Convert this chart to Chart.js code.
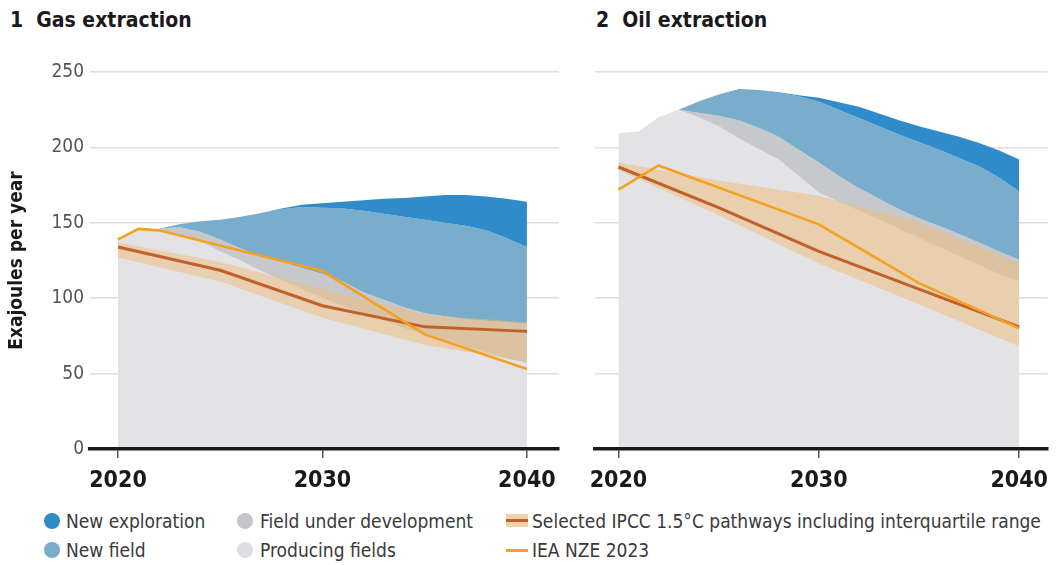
<!DOCTYPE html>
<html>
<head>
<meta charset="utf-8">
<script src="https://cdn.jsdelivr.net/npm/chart.js@4.4.1/dist/chart.umd.min.js"></script>
<style>
  html, body { margin: 0; padding: 0; background: #fff; }
  #wrap { position: relative; width: 1057px; height: 565px; overflow: hidden;
          font-family: 'Liberation Sans Narrow', 'DejaVu Sans Condensed', 'Liberation Sans', sans-serif; }
  .title { position: absolute; top: 8px; font-weight: bold; font-size: 21px; color: #1a1a1a; white-space: nowrap; }
  #cGas { position: absolute; left: 0; top: 0; }
  #cOil { position: absolute; left: 575px; top: 0; }
  .leg { position: absolute; font-size: 19px; color: #3a3a3a; white-space: nowrap; line-height: 24px; }
  .dot { position: absolute; width: 16px; height: 16px; border-radius: 50%; }
  .bandmark { position: absolute; width: 22px; height: 13px; background: #efd3a8; }
  .linemark { position: absolute; height: 3px; }
</style>
</head>
<body>
<div id="wrap">
  <div class="title" style="left:10px;">1&nbsp;&nbsp;Gas extraction</div>
  <div class="title" style="left:596px;">2&nbsp;&nbsp;Oil extraction</div>
  <canvas id="cGas" width="575" height="500"></canvas>
  <canvas id="cOil" width="482" height="500"></canvas>

  <div class="dot" style="left:44px;top:513px;background:#2f8bc9;"></div>
  <div class="leg" style="left:66px;top:509px;">New exploration</div>
  <div class="dot" style="left:44px;top:542px;background:#7aaccb;"></div>
  <div class="leg" style="left:66px;top:538px;">New field</div>

  <div class="dot" style="left:237px;top:513px;background:#c4c5c8;"></div>
  <div class="leg" style="left:260px;top:509px;">Field under development</div>
  <div class="dot" style="left:237px;top:542px;background:#dfdfe3;"></div>
  <div class="leg" style="left:260px;top:538px;">Producing fields</div>

  <div class="bandmark" style="left:506px;top:514px;"></div>
  <div class="linemark" style="left:506px;top:519px;width:22px;background:#c0602a;"></div>
  <div class="leg" style="left:532px;top:509px;">Selected IPCC 1.5°C pathways including interquartile range</div>
  <div class="linemark" style="left:506px;top:549px;width:22px;background:#f5a020;"></div>
  <div class="leg" style="left:532px;top:538px;">IEA NZE 2023</div>
</div>

<script>
// ---------- data ----------
const years = [2020, 2021, 2022, 2023, 2024, 2025, 2026, 2027, 2028, 2029, 2030,
               2031, 2032, 2033, 2034, 2035, 2036, 2037, 2038, 2039, 2040];

// Gas: cumulative top of each stacked layer (EJ/yr)
const gasProducing   = [139, 145, 145, 142, 138, 131, 125, 118, 112, 106, 100, 95, 90, 85, 80, 76, 72, 68, 64, 60, 57];
const gasDevelopment = [139, 145, 146, 147, 144, 139, 133, 128, 124, 120, 116, 111, 104, 99, 94, 90, 88, 86, 85, 84, 83];
const gasNewField    = [139, 145, 146, 149, 151, 152, 154, 156.5, 159, 160.5, 160, 159.5, 158, 156, 154, 152, 150, 148, 145, 140, 134];
const gasExploration = [139, 145, 146, 149, 151, 152, 154, 156.5, 159.5, 162, 163, 164, 165, 166, 166.5, 167.5, 168.5, 168.5, 167.5, 166, 164];

// Oil: cumulative top of each stacked layer (EJ/yr)
const oilProducing   = [209.5, 210.5, 220, 225, 220, 214, 206, 199, 192, 181, 170, 164, 158, 152, 146, 140, 134, 128, 122, 116, 111];
const oilDevelopment = [209.5, 210.5, 220, 225, 223, 221, 218, 213, 207, 198.5, 190, 181, 173, 166, 159, 153, 148, 142.5, 137, 131, 125.5];
const oilNewField    = [209.5, 210.5, 220, 225, 230.5, 235, 238, 238, 236, 234, 230.5, 225, 219.5, 214, 208.5, 203.5, 198.5, 193, 187.5, 180, 171];
const oilExploration = [209.5, 210.5, 220, 225, 230.5, 235, 238.5, 238, 236.5, 234.5, 233, 230, 227, 222.5, 218, 214, 210.5, 207, 203, 198, 192];

// IPCC 1.5°C pathways (median and interquartile range)
const ipccYears     = [2020, 2025, 2030, 2035, 2040];
const gasIpccMedian = [134, 118.5, 95, 81, 78];
const gasIpccLow    = [127, 111, 87, 69, 58];
const gasIpccHigh   = [137, 124, 106, 89, 84];
const oilIpccMedian = [187, 160, 131, 106, 81];
const oilIpccLow    = [185, 155, 123, 96, 68];
const oilIpccHigh   = [190, 178, 168, 150, 123];

// IEA NZE 2023
const gasIeaYears = [2020, 2021, 2022, 2030, 2035, 2040];
const gasIea      = [139, 146, 145, 118, 76, 53];
const oilIeaYears = [2020, 2022, 2030, 2035, 2040];
const oilIea      = [172, 188, 149, 110, 80];

const xTicks = [2020, 2030, 2040];
const yTicks = [0, 50, 100, 150, 200, 250];

// ---------- styling ----------
const FONT = "'Liberation Sans Narrow', 'DejaVu Sans Condensed', 'Liberation Sans', sans-serif";
const C = {
  exploration: '#2f8bc9',
  newField: '#7aaccb',
  development: '#c7c8cb',
  producing: '#e3e3e6',
  band: 'rgba(240, 188, 118, 0.5)',
  median: '#c0602a',
  iea: '#f5a020',
  grid: '#dedede'
};

function pts(xs, ys) { return xs.map((x, i) => ({ x: x, y: ys[i] })); }

function area(data, color, fill) {
  return { data: data, borderWidth: 0, borderColor: color, backgroundColor: color,
           fill: fill, pointRadius: 0, tension: 0 };
}

function makePanel(id, d, opts) {
  const datasets = [
    { data: pts(d.ieaYears, d.iea), borderColor: C.iea, borderWidth: 2.6, fill: false, pointRadius: 0, tension: 0 },
    { data: pts(ipccYears, d.med), borderColor: C.median, borderWidth: 3, fill: false, pointRadius: 0, tension: 0 },
    { data: pts(ipccYears, d.high), borderWidth: 0, backgroundColor: C.band, fill: 3, pointRadius: 0, tension: 0 },
    { data: pts(ipccYears, d.low), borderWidth: 0, fill: false, pointRadius: 0, tension: 0 },
    area(pts(years, d.expl), C.exploration, 5),
    area(pts(years, d.nf), C.newField, 6),
    area(pts(years, d.dev), C.development, 7),
    area(pts(years, d.prod), C.producing, 'origin')
  ];
  return new Chart(document.getElementById(id), {
    type: 'line',
    data: { datasets: datasets },
    options: {
      responsive: false,
      animation: false,
      events: [],
      layout: { padding: { top: 72, right: opts.padRight, left: 0, bottom: 0 } },
      plugins: { legend: { display: false }, tooltip: { enabled: false } },
      scales: {
        x: {
          type: 'linear', min: opts.xmin, max: opts.xmax,
          afterBuildTicks: (ax) => { ax.ticks = xTicks.map(v => ({ value: v })); },
          afterFit: (ax) => { ax.height = 51; },
          border: { display: true, color: '#1a1a1a', width: 3.5, z: 1 },
          grid: { display: true, drawOnChartArea: false, drawTicks: true, tickLength: 9, color: '#555', lineWidth: 1.5 },
          ticks: { padding: 9, color: '#1a1a1a', font: { family: FONT, size: 23, weight: 'bold' },
                   maxRotation: 0, autoSkip: false, callback: (v) => String(v) }
        },
        y: {
          type: 'linear', min: 0, max: 250,
          afterBuildTicks: (ax) => { ax.ticks = yTicks.map(v => ({ value: v })); },
          afterFit: (ax) => { ax.width = opts.yWidth; },
          border: { display: false },
          grid: { color: C.grid, lineWidth: 1.5, drawTicks: false },
          ticks: { display: opts.showY, padding: 6, color: '#555', font: { family: FONT, size: 19 } },
          title: { display: opts.showY, text: 'Exajoules per year', color: '#1a1a1a',
                   font: { family: FONT, size: 19, weight: 'bold' }, padding: { top: 6, bottom: 0 } }
        }
      }
    }
  });
}

makePanel('cGas', {
  prod: gasProducing, dev: gasDevelopment, nf: gasNewField, expl: gasExploration,
  med: gasIpccMedian, low: gasIpccLow, high: gasIpccHigh, ieaYears: gasIeaYears, iea: gasIea
}, { xmin: 2018.63, xmax: 2041.57, padRight: 16, yWidth: 90, showY: true });

makePanel('cOil', {
  prod: oilProducing, dev: oilDevelopment, nf: oilNewField, expl: oilExploration,
  med: oilIpccMedian, low: oilIpccLow, high: oilIpccHigh, ieaYears: oilIeaYears, iea: oilIea
}, { xmin: 2018.83, xmax: 2041.42, padRight: 0, yWidth: 20, showY: false });
</script>
</body>
</html>
